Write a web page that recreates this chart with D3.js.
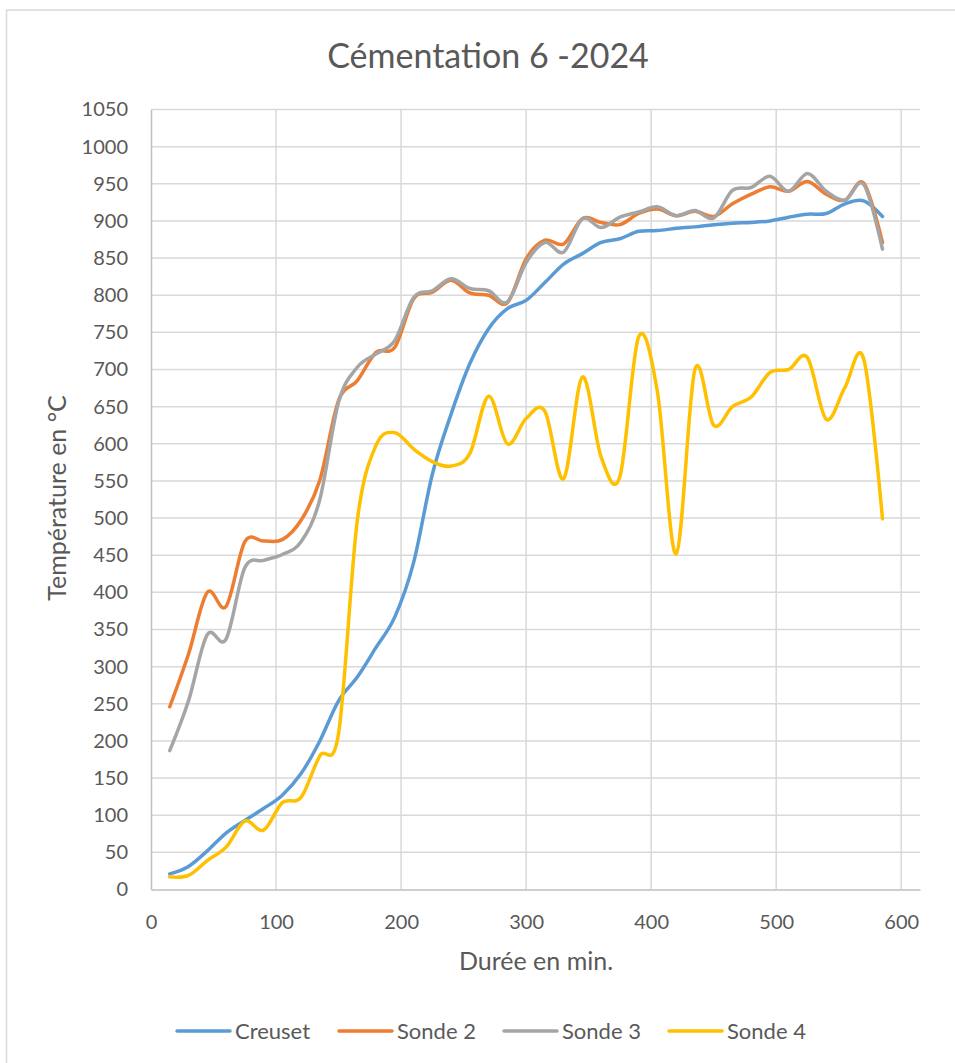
<!DOCTYPE html>
<html>
<head>
<meta charset="utf-8">
<script src="https://cdn.jsdelivr.net/npm/d3@7"></script>
<style>
  body { margin: 0; background: #fff; }
  text { font-family: Lato, "Open Sans", sans-serif; fill: #595959; }
</style>
</head>
<body>
<div id="chart"></div>
<script>
//Readings every 15 min
var minutes = [15, 30, 45, 60, 75, 90, 105, 120, 135, 150, 165, 180, 195, 210, 225, 240, 255, 270, 285, 300,
               315, 330, 345, 360, 375, 390, 405, 420, 435, 450, 465, 480, 495, 510, 525, 540, 555, 570, 585]
var creuset = [21, 31, 52, 76, 93, 109, 127, 156, 200, 254, 286, 326, 367, 440, 559, 640, 708, 755, 782, 793,
               817, 842, 856, 871, 876, 886, 887, 890, 892, 895, 897, 898, 900, 905, 909, 910, 923, 927, 906]
var sonde2 = [246, 317, 400, 381, 468, 469, 471, 497, 551, 658, 685, 723, 730, 795, 804, 820, 803, 800, 790, 849,
              874, 869, 903, 898, 895, 910, 916, 907, 913, 906, 923, 936, 946, 940, 953, 936, 928, 951, 871]
var sonde3 = [187, 254, 343, 337, 433, 443, 451, 468, 525, 656, 703, 721, 739, 797, 806, 822, 809, 806, 791, 844,
              871, 858, 903, 891, 905, 912, 919, 907, 914, 904, 941, 945, 960, 940, 964, 940, 928, 949, 862]
var sonde4 = [17, 19, 39, 57, 92, 80, 117, 124, 180, 210, 497, 598, 615, 593, 576, 570, 587, 664, 600, 634,
              644, 553, 690, 582, 556, 744, 670, 452, 700, 625, 650, 663, 696, 700, 716, 633, 676, 714, 499]

var seriesNames = ["Creuset", "Sonde 2", "Sonde 3", "Sonde 4"]
var seriesValues = [creuset, sonde2, sonde3, sonde4]
var colors = ["#5B9BD5", "#ED7D31", "#A5A5A5", "#FFC000"]
var xTicks = [0, 100, 200, 300, 400, 500, 600]
var yTicks = [0, 50, 100, 150, 200, 250, 300, 350, 400, 450, 500, 550, 600, 650, 700, 750, 800, 850, 900, 950, 1000, 1050]

const w = 955
const h = 1063

const svg = d3.select("#chart").append("svg")
              .attr("width", w)
              .attr("height", h)

//chart border (runs off the picture on right and bottom)
svg.append("rect")
   .attr("x", 6.5).attr("y", 10)
   .attr("width", 1000).attr("height", 1100)
   .attr("fill", "#fff")
   .attr("stroke", "#d9d9d9")
   .attr("stroke-width", 1.5)

const xScale = d3.scaleLinear().domain([0, 615]).range([151, 920])
const yScale = d3.scaleLinear().domain([0, 1050]).range([889.5, 109.5])

//gridlines
svg.append("g")
   .selectAll("line")
   .data(yTicks.slice(1))
   .enter().append("line")
   .attr("x1", 151).attr("x2", 920)
   .attr("y1", d => yScale(d)).attr("y2", d => yScale(d))
   .attr("stroke", "#d9d9d9").attr("stroke-width", 1.5)

svg.append("g")
   .selectAll("line")
   .data(xTicks.slice(1))
   .enter().append("line")
   .attr("x1", d => xScale(d)).attr("x2", d => xScale(d))
   .attr("y1", 109.5).attr("y2", 889.5)
   .attr("stroke", "#d9d9d9").attr("stroke-width", 1.5)

//axes
const xAxis = d3.axisBottom(xScale).tickValues(xTicks).tickSize(0).tickPadding(25).tickFormat(d3.format("d"))
const yAxis = d3.axisLeft(yScale).tickValues(yTicks).tickSize(0).tickPadding(23).tickFormat(d3.format("d"))

const gx = svg.append("g")
   .attr("transform", "translate(0," + yScale(0) + ")")
   .call(xAxis)
gx.select(".domain").attr("stroke", "#bfbfbf").attr("stroke-width", 1.5)
gx.selectAll("text").style("font-size", "20px").style("fill", "#595959")

const gy = svg.append("g")
   .attr("transform", "translate(151,0)")
   .call(yAxis)
gy.select(".domain").attr("stroke", "#bfbfbf").attr("stroke-width", 1.5)
gy.selectAll("text").style("font-size", "20px").style("fill", "#595959")

//the four smoothed lines
const line = d3.line()
   .x((d, i) => xScale(minutes[i]))
   .y(d => yScale(d))
   .curve(d3.curveCardinal.tension(0))

svg.append("g")
   .selectAll("path")
   .data(seriesValues)
   .enter().append("path")
   .attr("d", d => line(d))
   .attr("fill", "none")
   .attr("stroke", (d, i) => colors[i])
   .attr("stroke-width", 3.5)
   .attr("stroke-linecap", "round")
   .attr("stroke-linejoin", "round")

//titles
svg.append("text")
   .attr("x", 488).attr("y", 68)
   .attr("text-anchor", "middle")
   .style("font-size", "34px")
   .text("Cémentation 6 -2024")

svg.append("text")
   .attr("x", 536).attr("y", 970)
   .attr("text-anchor", "middle")
   .style("font-size", "25px")
   .text("Durée en min.")

svg.append("text")
   .attr("transform", "translate(66,498) rotate(-90)")
   .attr("text-anchor", "middle")
   .style("font-size", "25px")
   .text("Température en °C")

//legend
var legendX = [177, 339, 504, 669]
const legend = svg.append("g")
   .selectAll("g")
   .data(seriesNames)
   .enter().append("g")
   .attr("transform", (d, i) => "translate(" + legendX[i] + ",1031)")

legend.append("line")
   .attr("x1", 0).attr("x2", 53)
   .attr("stroke", (d, i) => colors[i])
   .attr("stroke-width", 3.5)
   .attr("stroke-linecap", "round")

legend.append("text")
   .attr("x", 58).attr("y", 8)
   .style("font-size", "22px")
   .text(d => d)
</script>
</body>
</html>
